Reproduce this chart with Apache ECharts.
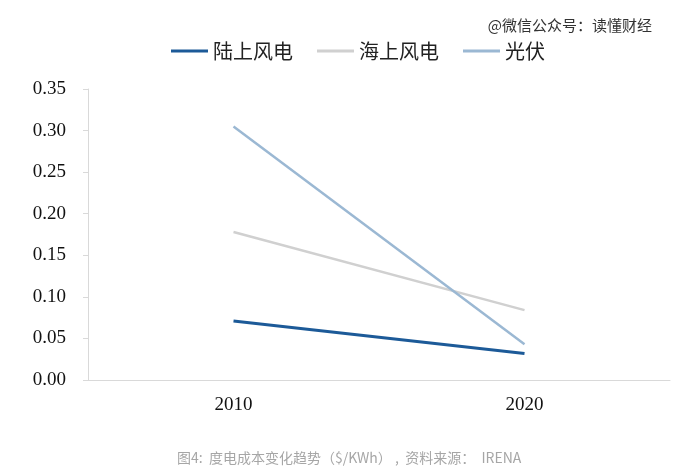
<!DOCTYPE html>
<html><head><meta charset="utf-8">
<script src="https://cdn.jsdelivr.net/npm/echarts@6/dist/echarts.min.js"></script>
<style>html,body{margin:0;padding:0;background:#fff}#c{width:679px;height:472px}</style>
</head><body><div id="c"></div>
<script>
var categories = ['2010', '2020'];
var onshoreWind = [0.071, 0.032];
var offshoreWind = [0.178, 0.084];
var solarPV = [0.305, 0.043];
var seriesNames = ['陆上风电', '海上风电', '光伏'];
var yTicks = [0, 0.05, 0.10, 0.15, 0.20, 0.25, 0.30, 0.35];

var chart = echarts.init(document.getElementById('c'));
chart.setOption({
  animation: false,
  backgroundColor: '#fff',
  title: [
    {text: '@微信公众号：读懂财经', right: 22, top: 13,
     textStyle: {fontFamily: 'Noto Sans CJK SC', fontSize: 15, fontWeight: 'normal', color: '#333'}},
    {text: '图4:  度电成本变化趋势（$/KWh） ,  资料来源：  IRENA', left: 172, top: 446,
     textStyle: {fontFamily: 'Noto Sans CJK SC', fontSize: 14, fontWeight: 'normal', color: '#a6a6a6'}}
  ],
  legend: {
    top: 36, left: 166,
    itemWidth: 37, itemHeight: 3, itemGap: 24,
    icon: 'rect',
    textStyle: {fontFamily: 'Noto Sans CJK SC', fontSize: 20, color: '#222', padding: [0, 0, 0, 0]},
    data: seriesNames
  },
  grid: {left: 88, right: 9, top: 89, bottom: 92, containLabel: false},
  xAxis: {
    type: 'category', data: categories, boundaryGap: true,
    axisLine: {lineStyle: {color: '#d9d9d9', width: 1}},
    axisTick: {show: false},
    axisLabel: {fontFamily: 'Liberation Serif', fontSize: 19, color: '#111', margin: 16}
  },
  yAxis: {
    type: 'value', min: 0, max: 0.35, interval: 0.05,
    axisLine: {show: true, lineStyle: {color: '#d9d9d9', width: 1}},
    axisTick: {show: true, length: 5, lineStyle: {color: '#d9d9d9'}},
    splitLine: {show: false},
    axisLabel: {fontFamily: 'Liberation Serif', fontSize: 19, color: '#111', margin: 22,
      formatter: function (v) { return v.toFixed(2); }}
  },
  series: [
    {name: seriesNames[0], type: 'line', data: onshoreWind, showSymbol: false, symbol: 'none',
     lineStyle: {color: '#1c5a98', width: 3}, itemStyle: {color: '#1c5a98'}},
    {name: seriesNames[1], type: 'line', data: offshoreWind, showSymbol: false, symbol: 'none',
     lineStyle: {color: '#d0d0d0', width: 2.5}, itemStyle: {color: '#d0d0d0'}},
    {name: seriesNames[2], type: 'line', data: solarPV, showSymbol: false, symbol: 'none',
     lineStyle: {color: '#9bb8d3', width: 2.5}, itemStyle: {color: '#9bb8d3'}}
  ]
});
</script></body></html>
